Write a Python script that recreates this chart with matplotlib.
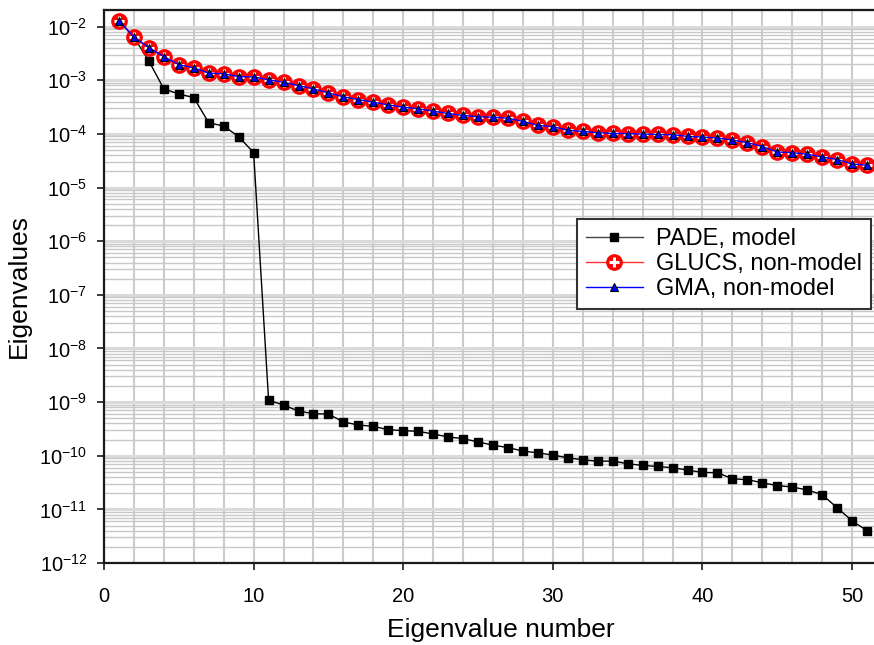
import matplotlib
matplotlib.use("Agg")
import matplotlib.pyplot as plt
from matplotlib.ticker import LogLocator, NullFormatter, MultipleLocator, FixedLocator
from matplotlib.lines import Line2D

plt.rcParams["font.family"] = ["Liberation Sans", "DejaVu Sans"]
plt.rcParams["mathtext.fontset"] = "custom"
plt.rcParams["mathtext.rm"] = "Liberation Sans"
plt.rcParams["axes.unicode_minus"] = False

# Eigenvalue index
n = list(range(1, 52))

# PADE model spectrum
pade = [1.29e-2, 6.35e-3, 2.28e-3, 6.89e-4, 5.57e-4, 4.75e-4, 1.61e-4, 1.40e-4,
        8.87e-5, 4.48e-5, 1.09e-9, 8.79e-10, 6.81e-10, 6.07e-10, 5.98e-10,
        4.26e-10, 3.74e-10, 3.53e-10, 3.06e-10, 2.93e-10, 2.85e-10, 2.54e-10,
        2.24e-10, 2.08e-10, 1.81e-10, 1.57e-10, 1.42e-10, 1.22e-10, 1.13e-10,
        1.03e-10, 9.14e-11, 8.39e-11, 7.94e-11, 7.94e-11, 7.08e-11, 6.59e-11,
        6.31e-11, 5.97e-11, 5.41e-11, 4.88e-11, 4.82e-11, 3.72e-11, 3.57e-11,
        3.14e-11, 2.77e-11, 2.61e-11, 2.30e-11, 1.88e-11, 1.07e-11, 6.12e-12,
        3.99e-12]

# GLUCS non-model spectrum
glucs = [1.29e-2, 6.35e-3, 4.07e-3, 2.75e-3, 1.95e-3, 1.70e-3, 1.36e-3, 1.32e-3,
         1.17e-3, 1.15e-3, 1.02e-3, 9.14e-4, 7.94e-4, 6.90e-4, 5.81e-4, 4.90e-4,
         4.37e-4, 3.89e-4, 3.48e-4, 3.14e-4, 2.94e-4, 2.65e-4, 2.40e-4, 2.21e-4,
         2.08e-4, 2.05e-4, 1.96e-4, 1.71e-4, 1.44e-4, 1.36e-4, 1.17e-4, 1.11e-4,
         1.05e-4, 1.02e-4, 1.01e-4, 9.91e-5, 9.77e-5, 9.64e-5, 8.99e-5, 8.73e-5,
         8.38e-5, 7.67e-5, 6.87e-5, 5.79e-5, 4.59e-5, 4.48e-5, 4.17e-5, 3.72e-5,
         3.32e-5, 2.75e-5, 2.61e-5]

# GMA non-model spectrum
gma = [1.29e-2, 6.35e-3, 4.07e-3, 2.75e-3, 1.95e-3, 1.70e-3, 1.36e-3, 1.32e-3,
       1.17e-3, 1.15e-3, 1.02e-3, 9.14e-4, 7.94e-4, 6.90e-4, 5.81e-4, 4.90e-4,
       4.37e-4, 3.89e-4, 3.48e-4, 3.14e-4, 2.94e-4, 2.65e-4, 2.40e-4, 2.21e-4,
       2.08e-4, 2.05e-4, 1.96e-4, 1.71e-4, 1.44e-4, 1.36e-4, 1.17e-4, 1.11e-4,
       1.05e-4, 1.02e-4, 1.01e-4, 9.91e-5, 9.77e-5, 9.64e-5, 8.99e-5, 8.73e-5,
       8.38e-5, 7.67e-5, 6.87e-5, 5.79e-5, 4.59e-5, 4.48e-5, 4.17e-5, 3.72e-5,
       3.32e-5, 2.75e-5, 2.61e-5]

x_ticks = [0, 10, 20, 30, 40, 50]
y_decades = [1e-12, 1e-11, 1e-10, 1e-9, 1e-8, 1e-7, 1e-6, 1e-5, 1e-4, 1e-3, 1e-2]

W, H = 874, 645
fig = plt.figure(figsize=(W / 100, H / 100), dpi=100)
ax = fig.add_axes([104 / W, (H - 563) / H, (897 - 104) / W, (563 - 10) / H])

ax.set_yscale("log")
ax.set_xlim(0, 53)
ax.set_ylim(1e-12, 2.04e-2)

# grid
ax.xaxis.set_major_locator(FixedLocator(x_ticks))
ax.xaxis.set_minor_locator(MultipleLocator(2))
ax.yaxis.set_major_locator(FixedLocator(y_decades))
ax.yaxis.set_minor_locator(LogLocator(base=10, subs=range(2, 10), numticks=100))
ax.yaxis.set_minor_formatter(NullFormatter())
ax.grid(True, which="major", axis="y", color="#dadada", lw=2.2, zorder=0)
ax.grid(True, which="minor", axis="y", color="#c8c8c8", lw=1.0, zorder=0)
ax.grid(True, which="both", axis="x", color="#cccccc", lw=1.5, zorder=0)
ax.set_axisbelow(True)

# series
l_pade, = ax.plot(n, pade, color="black", lw=1.0, marker="s", ms=5.4,
                  mfc="black", mec="black", zorder=3)
l_glucs, = ax.plot(n, glucs, color="#ff3030", lw=1.0, marker="o", ms=11,
                   mfc="red", mec="red", mew=1.0, zorder=4)
p_glucs, = ax.plot(n, glucs, ls="none", marker="+", ms=7, mec="white",
                   mew=2.2, zorder=4.5)
l_gma, = ax.plot(n, gma, color="blue", lw=1.0, marker="^", ms=6.2,
                 mfc="blue", mec="black", mew=0.8, zorder=5)

# axes styling
for s in ("left", "bottom", "top"):
    ax.spines[s].set_linewidth(1.6)
    ax.spines[s].set_color("#1a1a1a")
ax.spines["right"].set_visible(False)
ax.tick_params(axis="both", which="major", length=5, width=1.2, direction="out",
               labelsize=14.5, color="#1a1a1a")
ax.tick_params(axis="x", which="major", pad=12)
ax.tick_params(axis="y", which="major", pad=7)
ax.tick_params(axis="both", which="minor", length=0)
ax.tick_params(top=False)

ax.set_xlabel("Eigenvalue number", fontsize=19, labelpad=9)
ax.set_ylabel("Eigenvalues", fontsize=19, labelpad=6)

# legend
glucs_handle = (Line2D([], [], color="#ff3030", lw=1.0, marker="o", ms=11, mfc="red", mec="red"),
                Line2D([], [], ls="none", marker="+", ms=7, mec="white", mew=2.2))
pade_handle = Line2D([], [], color="#444444", lw=1.0, marker="s", ms=5.4, mfc="black", mec="black")
gma_handle = Line2D([], [], color="blue", lw=1.0, marker="^", ms=5.5, mfc="blue", mec="black", mew=0.8)
leg = fig.legend([pade_handle, glucs_handle, gma_handle],
                 ["PADE, model", "GLUCS, non-model", "GMA, non-model"],
                 loc="upper left", bbox_to_anchor=(577 / W, 1 - 219 / H),
                 fontsize=17, frameon=True, fancybox=False, shadow=False,
                 borderpad=0.38, labelspacing=0.13, handlelength=2.4,
                 handletextpad=0.55, borderaxespad=0, framealpha=1)
leg.get_frame().set_edgecolor("#333333")
leg.get_frame().set_linewidth(1.5)

fig.savefig("out.png", dpi=100)
